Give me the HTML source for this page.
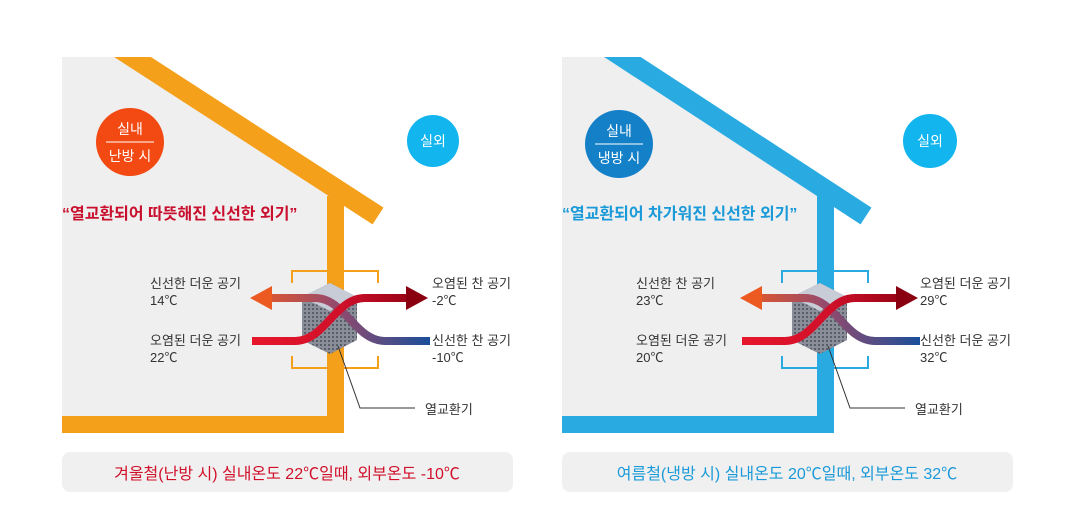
<!DOCTYPE html>
<html><head><meta charset="utf-8"><style>
html,body{margin:0;padding:0;background:#fff;width:1080px;height:507px;overflow:hidden}
text{font-family:"Liberation Sans","Noto Sans CJK KR",sans-serif}
</style></head><body>
<svg width="1080" height="507" viewBox="0 0 1080 507" xmlns="http://www.w3.org/2000/svg">
<defs>
<clipPath id="top"><rect x="0" y="57" width="1080" height="450"/></clipPath>
<linearGradient id="gR" x1="250" y1="0" x2="430" y2="0" gradientUnits="userSpaceOnUse">
<stop offset="0" stop-color="#e8162a"/><stop offset="0.5" stop-color="#d0102a"/><stop offset="1" stop-color="#8a0010"/></linearGradient>
<linearGradient id="gB" x1="250" y1="0" x2="430" y2="0" gradientUnits="userSpaceOnUse">
<stop offset="0" stop-color="#ec5a22"/><stop offset="0.45" stop-color="#9a4a6a"/><stop offset="1" stop-color="#1a4f9a"/></linearGradient>
<pattern id="mesh" width="4" height="4" patternUnits="userSpaceOnUse"><rect width="4" height="4" fill="#8a8e98"/><rect width="2" height="2" fill="#5a5e6a"/></pattern>
<g id="unit">
<polygon points="330,283 357,297 357,340 330,354 302,340 302,297" fill="url(#mesh)"/>
<polygon points="330,283 357,297 330,311 302,297" fill="#c8ccd6"/>
<path d="M430 341 H385 C355 341 345 298 315 298 H268" fill="none" stroke="url(#gB)" stroke-width="8"/>
<polygon points="250,298 272,286 272,310" fill="#ec5a22"/>
<path d="M252 341 H295 C325 341 335 298 365 298 H408" fill="none" stroke="url(#gR)" stroke-width="8"/>
<polygon points="428,298 406,286 406,310" fill="#8a0010"/>
<path d="M338 346 L360 408 H415" fill="none" stroke="#333" stroke-width="1"/>
</g>
</defs>

<!-- LEFT HOUSE -->
<polygon points="62,57 140,57 330,190 330,416 62,416" fill="#efefef"/>
<g clip-path="url(#top)"><line x1="114" y1="45" x2="378" y2="216" stroke="#f5a01a" stroke-width="20"/></g>
<rect x="327" y="196" width="17" height="237" fill="#f5a01a"/>
<rect x="62" y="416" width="282" height="17" fill="#f5a01a"/>
<path d="M292 283 V271 H378 V283 M292 356 V368 H378 V356" fill="none" stroke="#f5a01a" stroke-width="2"/>
<use href="#unit"/>
<circle cx="130" cy="142" r="34" fill="#f24a12"/>
<line x1="106" y1="142" x2="154" y2="142" stroke="#fff" stroke-width="1"/>
<text x="130" y="134" fill="#fff" font-size="14" text-anchor="middle">실내</text>
<text x="130" y="161" fill="#fff" font-size="14" text-anchor="middle">난방 시</text>
<circle cx="433" cy="141" r="26" fill="#12b5ee"/>
<text x="433" y="146" fill="#fff" font-size="14" text-anchor="middle">실외</text>
<text x="62" y="219" fill="#c8102e" font-size="16" font-weight="bold">“열교환되어 따뜻해진 신선한 외기”</text>
<g fill="#333" font-size="13">
<text x="150" y="288">신선한 더운 공기</text>
<text x="150" y="305">14℃</text>
<text x="150" y="345">오염된 더운 공기</text>
<text x="150" y="362">22℃</text>
<text x="432" y="288">오염된 찬 공기</text>
<text x="432" y="305">-2℃</text>
<text x="432" y="345">신선한 찬 공기</text>
<text x="432" y="362">-10℃</text>
<text x="425" y="414">열교환기</text>
</g>
<rect x="62" y="452" width="451" height="40" rx="8" fill="#f0f0f0"/>
<text x="287" y="479" fill="#d0102a" font-size="16" text-anchor="middle">겨울철(난방 시) 실내온도 22℃일때, 외부온도 -10℃</text>

<!-- RIGHT HOUSE -->
<polygon points="562,57 630,57 820,190 820,416 562,416" fill="#efefef"/>
<g clip-path="url(#top)"><line x1="604" y1="45" x2="866" y2="216" stroke="#29abe2" stroke-width="20"/></g>
<rect x="817" y="196" width="17" height="237" fill="#29abe2"/>
<rect x="562" y="416" width="272" height="17" fill="#29abe2"/>
<path d="M782 283 V271 H868 V283 M782 356 V368 H868 V356" fill="none" stroke="#29abe2" stroke-width="2"/>
<g transform="translate(490,0)"><use href="#unit"/></g>
<circle cx="619" cy="144" r="34" fill="#1480c8"/>
<line x1="595" y1="144" x2="643" y2="144" stroke="#fff" stroke-width="1"/>
<text x="619" y="136" fill="#fff" font-size="14" text-anchor="middle">실내</text>
<text x="619" y="163" fill="#fff" font-size="14" text-anchor="middle">냉방 시</text>
<circle cx="930" cy="141" r="27" fill="#12b5ee"/>
<text x="930" y="146" fill="#fff" font-size="14" text-anchor="middle">실외</text>
<text x="562" y="219" fill="#1a9ad8" font-size="16" font-weight="bold">“열교환되어 차가워진 신선한 외기”</text>
<g fill="#333" font-size="13">
<text x="636" y="288">신선한 찬 공기</text>
<text x="636" y="305">23℃</text>
<text x="636" y="345">오염된 더운 공기</text>
<text x="636" y="362">20℃</text>
<text x="920" y="288">오염된 더운 공기</text>
<text x="920" y="305">29℃</text>
<text x="920" y="345">신선한 더운 공기</text>
<text x="920" y="362">32℃</text>
<text x="915" y="414">열교환기</text>
</g>
<rect x="562" y="452" width="451" height="40" rx="8" fill="#f0f0f0"/>
<text x="787" y="479" fill="#1a9ad8" font-size="16" text-anchor="middle">여름철(냉방 시) 실내온도 20℃일때, 외부온도 32℃</text>
</svg>
</body></html>
